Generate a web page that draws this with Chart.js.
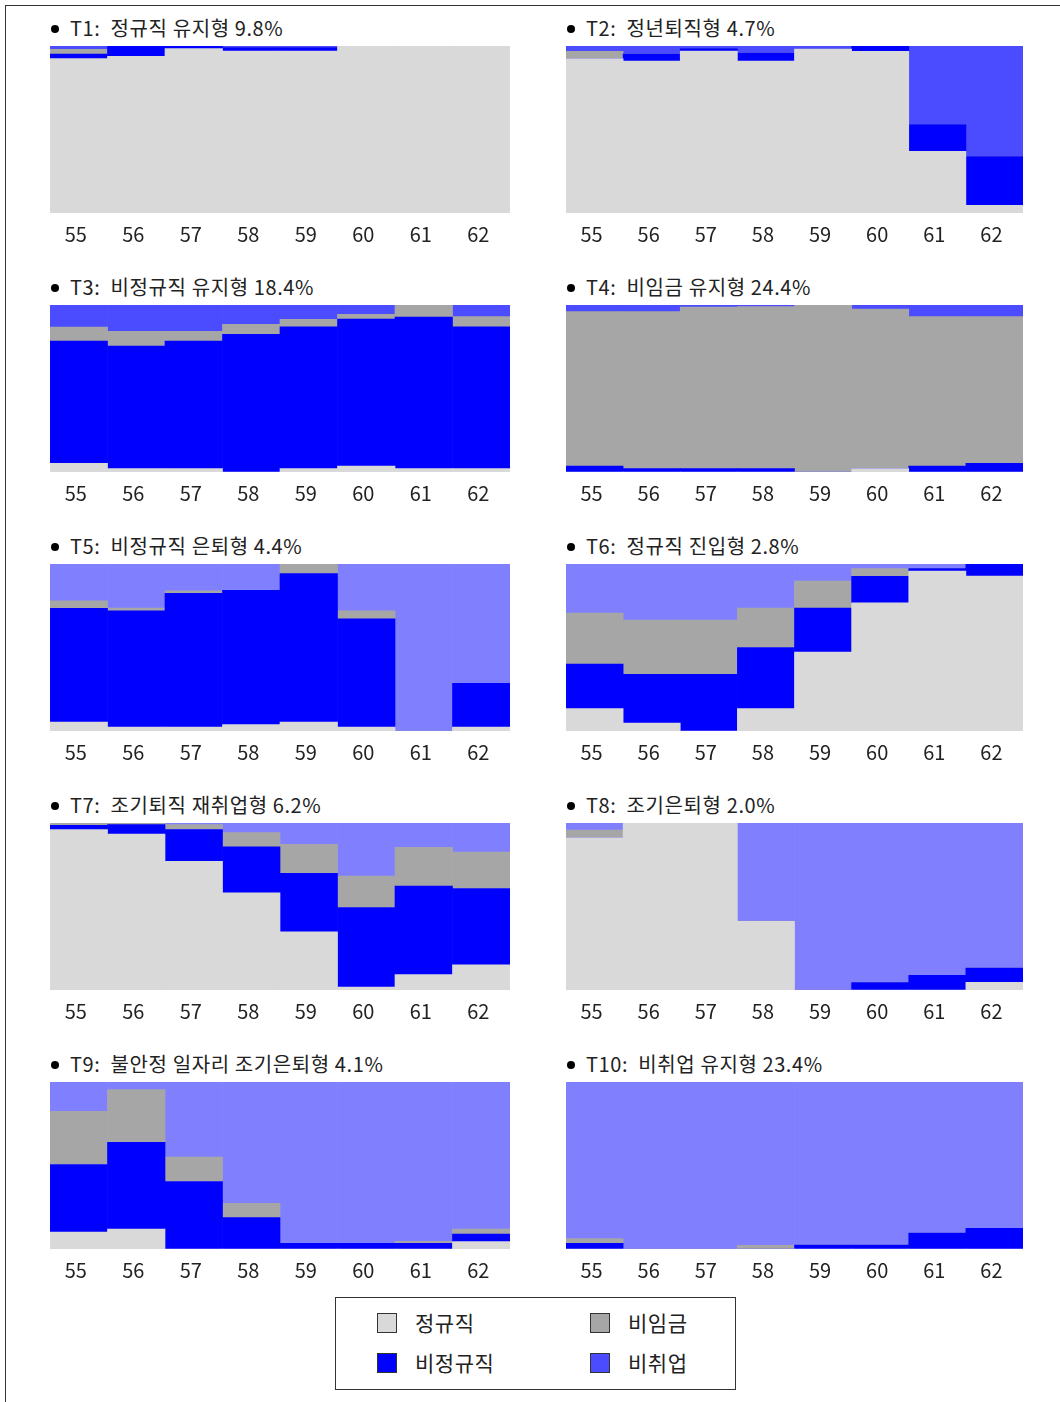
<!DOCTYPE html>
<html>
<head>
<meta charset="utf-8">
<script src="https://cdn.jsdelivr.net/npm/chart.js@4.4.0/dist/chart.umd.min.js"></script>
<style>
  body { margin: 0; background: #fff; font-family: 'Noto Sans CJK KR', sans-serif; }
  #page { position: relative; width: 1060px; height: 1402px; overflow: hidden; }
  #frame { position: absolute; left: 5px; top: 5px; width: 1200px; height: 1500px; border-left: 1px solid #333; border-top: 1px solid #333; }
  .title { position: absolute; font-size: 20px; line-height: 24px; color: #222; white-space: pre; letter-spacing: 0.6px; }
  .dot { position: absolute; width: 8px; height: 8px; border-radius: 50%; background: #000; }
  canvas { position: absolute; }
  #legend { position: absolute; left: 335px; top: 1297px; width: 399px; height: 91px; border: 1px solid #333; }
  .item { position: absolute; font-size: 21px; line-height: 24px; color: #222; letter-spacing: 0.5px; }
  .sw { position: absolute; width: 18px; height: 18px; border: 1px solid #333; }
</style>
</head>
<body>
<div id="page">
  <div id="frame"></div>
  <div id="legend"></div>
</div>
<script>
// ages on the x axis
const ages = ['55', '56', '57', '58', '59', '60', '61', '62'];

const panelTitles = [
  'T1:  정규직 유지형 9.8%',
  'T2:  정년퇴직형 4.7%',
  'T3:  비정규직 유지형 18.4%',
  'T4:  비임금 유지형 24.4%',
  'T5:  비정규직 은퇴형 4.4%',
  'T6:  정규직 진입형 2.8%',
  'T7:  조기퇴직 재취업형 6.2%',
  'T8:  조기은퇴형 2.0%',
  'T9:  불안정 일자리 조기은퇴형 4.1%',
  'T10:  비취업 유지형 23.4%'
];

const stateNames = ['정규직', '비정규직', '비임금', '비취업'];

// shares (%) per panel, one row per panel T1..T10
const regular = [
  [92.4, 93.8, 98.4, 97, 97, 100, 100, 100],
  [92.4, 91, 97, 91, 98.2, 96.8, 37, 4.6],
  [5.2, 2, 2, 0, 2, 3.6, 2, 2],
  [0, 0, 0, 0, 0, 2, 0, 0],
  [5.4, 2.4, 2.4, 3.8, 5.4, 2.4, 0, 2.4],
  [13.4, 4.8, 0, 13.4, 47.2, 76.8, 95.8, 92.8],
  [96, 93.4, 77, 58.2, 34.8, 1.8, 9.2, 15],
  [91.2, 100, 100, 41.2, 0, 0, 0, 4.6],
  [10.2, 12, 0, 0, 0, 0, 0, 4.4],
  [0, 0, 0, 0, 0, 0, 0, 0]
];
const irregular = [
  [2.8, 6.2, 1.6, 2, 2, 0, 0, 0],
  [0, 4.2, 1.4, 4.8, 0, 3.2, 16, 29.2],
  [73.2, 73.4, 76.4, 82.4, 85, 88, 90.8, 85],
  [3.6, 2, 2, 2, 0, 0, 3.6, 5.2],
  [68, 69.6, 80, 80.4, 88.8, 64.8, 0, 26.2],
  [26.6, 29.2, 34, 36.6, 26.4, 15.8, 1.4, 7.2],
  [2.6, 5.6, 19, 27.6, 35, 47.6, 53, 45.8],
  [0, 0, 0, 0, 0, 4.4, 8.8, 8.6],
  [40.4, 51.8, 40.4, 18.8, 3.4, 3.4, 3.4, 4.6],
  [3.4, 0, 0, 0, 2.4, 2.4, 9.6, 12.4]
];
const nonWage = [
  [2.8, 0, 0, 0, 0, 0, 0, 0],
  [4.4, 0, 0, 0, 0, 0, 0, 0],
  [8.4, 8.8, 5.8, 6, 4.4, 2.8, 7.2, 6],
  [92.4, 94, 96.8, 97, 100, 95.6, 89.4, 87.8],
  [4.6, 1.6, 1.6, 0, 5.8, 4.8, 0, 0],
  [30.6, 32.4, 32.4, 23.6, 16.2, 4.6, 0, 0],
  [1.4, 1, 3, 8.4, 17.4, 18.8, 23.2, 21.8],
  [4.6, 0, 0, 0, 0, 0, 0, 0],
  [31.8, 31.6, 14.6, 8.6, 0, 0, 1.2, 3],
  [2.8, 0, 0, 2.2, 0, 0, 0, 0]
];
const notWorking = [
  [2, 0, 0, 1, 1, 0, 0, 0],
  [3.2, 4.8, 1.6, 4.2, 1.8, 0, 47, 66.2],
  [13.2, 15.8, 15.8, 11.6, 8.6, 5.6, 0, 7],
  [4, 4, 1.2, 1, 0, 2.4, 7, 7],
  [22, 26.4, 16, 15.8, 0, 28, 100, 71.4],
  [29.4, 33.6, 33.6, 26.4, 10.2, 2.8, 2.8, 0],
  [0, 0, 1, 5.8, 12.8, 31.8, 14.6, 17.4],
  [4.2, 0, 0, 58.8, 100, 95.6, 91.2, 86.8],
  [17.6, 4.6, 45, 72.6, 96.6, 96.6, 95.4, 88],
  [93.8, 100, 100, 97.8, 97.6, 97.6, 90.4, 87.6]
];

const colRegular = '#d9d9d9';
const colIrregular = '#0000ff';
const colNonWage = '#a6a6a6';
const colNotWorkA = '#4b4bff';
const colNotWorkB = '#8080ff';

Chart.defaults.font.family = "'Noto Sans CJK KR', sans-serif";

const page = document.getElementById('page');

for (let i = 0; i < 10; i++) {
  const col = i % 2;
  const row = Math.floor(i / 2);
  const left = col === 0 ? 50 : 566;
  const width = col === 0 ? 460 : 457;
  const top = 46 + row * 259;

  const dot = document.createElement('div');
  dot.className = 'dot';
  dot.style.left = (left + 1) + 'px';
  dot.style.top = (top - 21) + 'px';
  page.appendChild(dot);

  const title = document.createElement('div');
  title.className = 'title';
  title.textContent = panelTitles[i];
  title.style.left = (left + 20) + 'px';
  title.style.top = (top - 30) + 'px';
  page.appendChild(title);

  const canvas = document.createElement('canvas');
  canvas.width = width;
  canvas.height = 209;
  canvas.style.left = left + 'px';
  canvas.style.top = top + 'px';
  page.appendChild(canvas);

  const notWorkColor = i < 4 ? colNotWorkA : colNotWorkB;

  new Chart(canvas.getContext('2d'), {
    type: 'bar',
    data: {
      labels: ages,
      datasets: [
        { label: stateNames[0], data: regular[i], backgroundColor: colRegular },
        { label: stateNames[1], data: irregular[i], backgroundColor: colIrregular },
        { label: stateNames[2], data: nonWage[i], backgroundColor: colNonWage },
        { label: stateNames[3], data: notWorking[i], backgroundColor: notWorkColor }
      ]
    },
    options: {
      responsive: false,
      animation: false,
      layout: { padding: 0 },
      datasets: { bar: { barPercentage: 1, categoryPercentage: 1, borderWidth: 0 } },
      plugins: { legend: { display: false }, tooltip: { enabled: false } },
      scales: {
        x: {
          stacked: true,
          grid: { display: false, drawTicks: false },
          border: { display: false },
          ticks: { color: '#222', font: { size: 20 }, padding: 9, maxRotation: 0, labelOffset: -3 }
        },
        y: { stacked: true, min: 0, max: 100, display: false }
      }
    }
  });
}

// legend box
const legend = document.getElementById('legend');
const legendItems = [
  { name: stateNames[0], color: colRegular, x: 41, y: 15 },
  { name: stateNames[2], color: colNonWage, x: 254, y: 15 },
  { name: stateNames[1], color: colIrregular, x: 41, y: 55 },
  { name: stateNames[3], color: colNotWorkA, x: 254, y: 55 }
];
legendItems.forEach(function (it) {
  const sw = document.createElement('div');
  sw.className = 'sw';
  sw.style.left = it.x + 'px';
  sw.style.top = it.y + 'px';
  sw.style.background = it.color;
  legend.appendChild(sw);
  const tx = document.createElement('div');
  tx.className = 'item';
  tx.textContent = it.name;
  tx.style.left = (it.x + 38) + 'px';
  tx.style.top = (it.y - 3) + 'px';
  legend.appendChild(tx);
});
</script>
</body>
</html>
